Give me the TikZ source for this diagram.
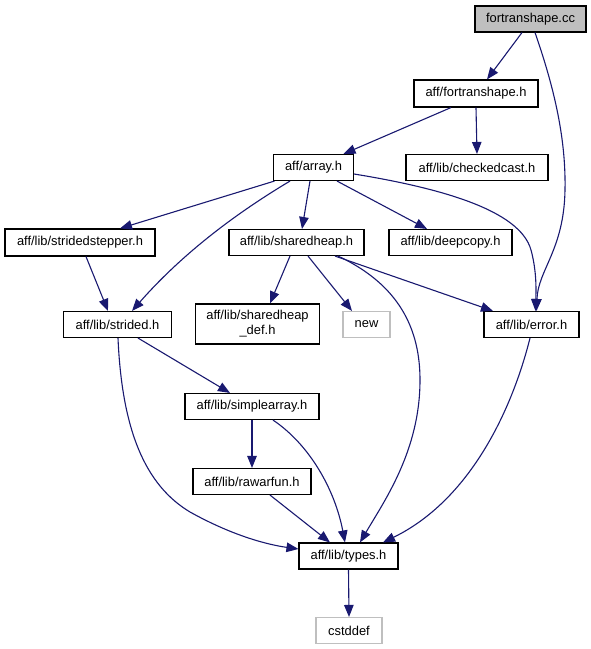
\documentclass[tikz,border=0pt]{standalone}
\usepackage{fontspec}
\setmainfont{Liberation Sans}
\usetikzlibrary{arrows.meta,calc}
\definecolor{edgec}{HTML}{191970}
\definecolor{lgray}{HTML}{BFBFBF}
\tikzset{
  box/.style={draw=black,line width=1.1pt,inner sep=0pt,font=\fontsize{12.9}{15}\selectfont,align=center},
  extbox/.style={box,draw=lgray},
  edge/.style={draw=edgec,line width=1.1pt,-{Triangle[length=12pt,width=9.5pt]},fill=none},
}
\begin{document}
\begin{tikzpicture}[x=1pt,y=-1pt]
\useasboundingbox (0,0) rectangle (591,649);
\node[box,fill=lgray,minimum width=111pt,minimum height=26pt] (cc) at (530.5,19) {fortranshape.cc};
\node[box,minimum width=124pt,minimum height=27pt] (fsh) at (476,93.5) {aff/fortranshape.h};
\node[box,minimum width=142pt,minimum height=26pt] (chk) at (477,167.5) {aff/lib/checkedcast.h};
\node[box,minimum width=80pt,minimum height=26pt] (arr) at (313.5,167.5) {aff/array.h};
\node[box,minimum width=150pt,minimum height=27pt] (ss) at (80,242.5) {aff/lib/stridedstepper.h};
\node[box,minimum width=135pt,minimum height=26pt] (sh) at (296.5,242.5) {aff/lib/sharedheap.h};
\node[box,minimum width=123pt,minimum height=26pt] (dc) at (450.5,242.5) {aff/lib/deepcopy.h};
\node[box,minimum width=108pt,minimum height=26pt] (str) at (117.5,324.5) {aff/lib/strided.h};
\node[box,minimum width=124pt,minimum height=40pt] (shd) at (257.5,324) {aff/lib/sharedheap\\\_def.h};
\node[extbox,minimum width=47pt,minimum height=26pt] (new) at (366.5,324.5) {new};
\node[box,minimum width=95pt,minimum height=26pt] (err) at (531.5,324.5) {aff/lib/error.h};
\node[box,minimum width=134pt,minimum height=26pt] (sa) at (252,406.5) {aff/lib/simplearray.h};
\node[box,minimum width=118pt,minimum height=26pt] (raw) at (252,481.5) {aff/lib/rawarfun.h};
\node[box,minimum width=99pt,minimum height=26pt] (ty) at (348.5,556) {aff/lib/types.h};
\node[extbox,minimum width=66pt,minimum height=26pt] (cst) at (349,630.5) {cstddef};

\draw[edge] ($(cc.south)+(-8.5,0)$) -- ($(fsh.north)+(11,0)$);
\draw[edge] ($(cc.south)+(4.5,0)$) .. controls (555,90) and (566,140) .. (565,190) .. controls (564,250) and (538,270) .. ($(err.north)+(5,0)$);
\draw[edge] ($(fsh.south)+(-25,0)$) -- ($(arr.north)+(30,0)$);
\draw[edge] (fsh.south) -- (chk.north);
\draw[edge] ($(arr.south)+(-39,0)$) -- ($(ss.north)+(40,0)$);
\draw[edge] ($(arr.south)+(-23.5,0)$) .. controls (250,205) and (190,245) .. ($(str.north)+(14.5,0)$);
\draw[edge] ($(arr.south)+(-3.5,0)$) -- ($(sh.north)+(5.5,0)$);
\draw[edge] ($(arr.south)+(23.5,0)$) -- ($(dc.north)+(-23.5,0)$);
\draw[edge] ($(arr.east)+(0,6.5)$) .. controls (440,188) and (520,210) .. (531,250) .. controls (537,272) and (536,292) .. ($(err.north)+(4,0)$);
\draw[edge] ($(sh.south)+(-6.5,0)$) -- ($(shd.north)+(12.5,0)$);
\draw[edge] ($(sh.south)+(11.5,0)$) -- ($(new.north)+(-14.5,0)$);
\draw[edge] ($(sh.south)+(38.5,0)$) -- ($(err.north)+(-38.5,0)$);
\draw[edge] ($(sh.south)+(41.5,0)$) .. controls (400,285) and (420,330) .. (420,380) .. controls (420,450) and (385,500) .. ($(ty.north)+(11.5,0)$);
\draw[edge] ($(ss.south)+(6,0)$) -- ($(str.north)+(-9.5,0)$);
\draw[edge] ($(str.south)+(20.5,0)$) -- ($(sa.north)+(-22,0)$);
\draw[edge] ($(str.south)+(0.5,0)$) .. controls (122,430) and (145,485) .. (190,512) .. controls (235,537) and (270,545) .. ($(ty.west)+(0,-7)$);
\draw[edge] (sa.south) -- (raw.north);
\draw[edge] ($(sa.south)+(21,0)$) .. controls (310,445) and (335,490) .. ($(ty.north)+(-3.5,0)$);
\draw[edge] ($(raw.south)+(18,0)$) -- ($(ty.north)+(-18.5,0)$);
\draw[edge] ($(err.south)+(-1.5,0)$) .. controls (512,410) and (470,500) .. ($(ty.north)+(34.5,0)$);
\draw[edge] (ty.south) -- (cst.north);
\end{tikzpicture}
\end{document}
